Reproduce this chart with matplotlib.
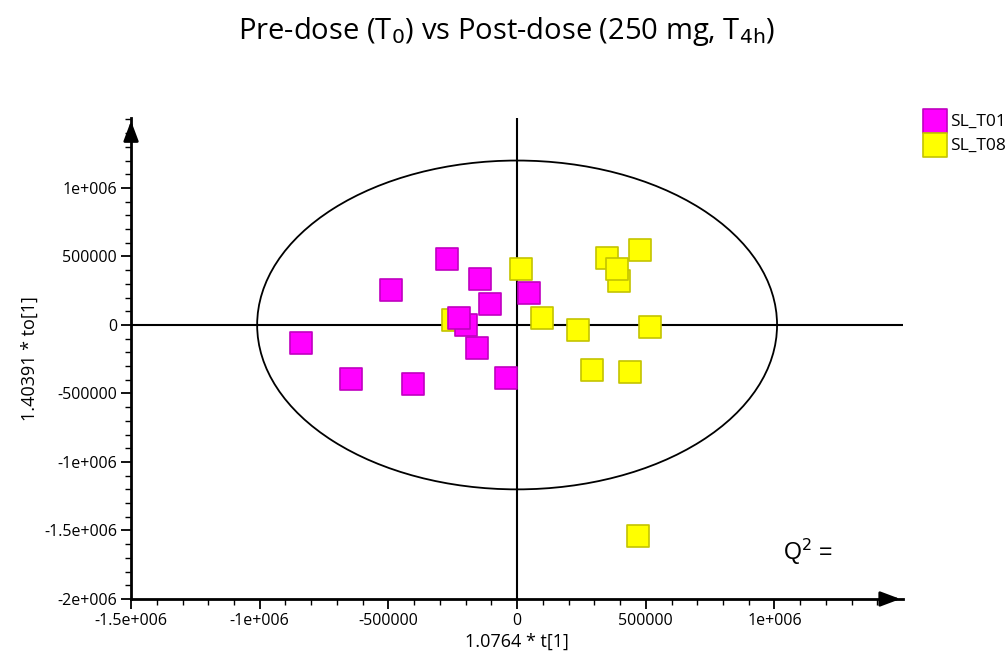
import numpy as np
import matplotlib
matplotlib.use("Agg")
import matplotlib.pyplot as plt
from matplotlib.ticker import MultipleLocator, FixedLocator, FixedFormatter
from matplotlib.patches import Ellipse

# scores
t01_x = [-840000, -646000, -405000, -490000, -272000, -144000, -105000, 47000, -198000, -226000, -157000, -44000]
t01_y = [-131000, -394000, -430000, 255000, 481000, 335000, 155000, 233000, -2000, 53000, -168000, -384000]
t08_x = [-249000, 16000, 96000, 236000, 517000, 349000, 476000, 397000, 390000, 291000, 437000, 470000]
t08_y = [34000, 410000, 53000, -39000, -15000, 490000, 547000, 321000, 410000, -330000, -340000, -1543000]

xticks = [-1500000, -1000000, -500000, 0, 500000, 1000000]
xlabels = ["-1.5e+006", "-1e+006", "-500000", "0", "500000", "1e+006"]
yticks = [-2000000, -1500000, -1000000, -500000, 0, 500000, 1000000]
ylabels = ["-2e+006", "-1.5e+006", "-1e+006", "-500000", "0", "500000", "1e+006"]

ell_a = 1010000
ell_b = 1200000

plt.rcParams['font.family'] = ['Open Sans', 'DejaVu Sans']

fig = plt.figure(figsize=(10.08, 6.57), dpi=100)
ax = fig.add_axes([0.130, 0.0883, 0.766, 0.732])
ax.set_xlim(-1500000, 1500000)
ax.set_ylim(-2000000, 1510000)

ax.axhline(0, color="black", lw=1.5, zorder=1)
ax.axvline(0, color="black", lw=1.5, zorder=1)
ax.add_patch(Ellipse((0, 0), 2 * ell_a, 2 * ell_b, fill=False, ec="black", lw=1.3, zorder=1))

ax.scatter(t08_x, t08_y, marker="s", s=270, c="#ffff00", edgecolors="#c4c400", linewidths=1.2, zorder=2)
ax.scatter(t01_x, t01_y, marker="s", s=270, c="#ff00ff", edgecolors="#c000c0", linewidths=1.2, zorder=3)

for s in ["top", "right"]:
    ax.spines[s].set_visible(False)
ax.spines["left"].set_linewidth(2)
ax.spines["bottom"].set_linewidth(2)

# arrow heads at the ends of the axes
ax.annotate("", xy=(1.0, 0), xytext=(0.97, 0), xycoords="axes fraction",
            arrowprops=dict(arrowstyle="-|>,head_length=1.2,head_width=0.45", color="black", lw=2), annotation_clip=False)
ax.annotate("", xy=(0, 1.0), xytext=(0, 0.97), xycoords="axes fraction",
            arrowprops=dict(arrowstyle="-|>,head_length=1.2,head_width=0.45", color="black", lw=2), annotation_clip=False)

ax.xaxis.set_major_locator(FixedLocator(xticks))
ax.xaxis.set_major_formatter(FixedFormatter(xlabels))
ax.yaxis.set_major_locator(FixedLocator(yticks))
ax.yaxis.set_major_formatter(FixedFormatter(ylabels))
ax.xaxis.set_minor_locator(FixedLocator(np.arange(-1500000, 1450000, 100000)))
ax.yaxis.set_minor_locator(MultipleLocator(100000))
ax.tick_params(which="major", length=7, width=1.3, labelsize=11.5, pad=3)
ax.tick_params(which="minor", length=4, width=1.0)

ax.set_xlabel("1.0764 * t[1]", fontsize=13, labelpad=3)
ax.set_ylabel("1.40391 * to[1]", fontsize=13, labelpad=4)

fig.text(0.503, 1 - 32 / 657, r"Pre-dose (T$_\mathrm{0}$) vs Post-dose (250 mg, T$_\mathrm{4h}$)",
         ha="center", va="center", fontsize=21)

ax.text(0.876, 0.098, "Q$^2$ =", transform=ax.transAxes, fontsize=16.5,
        family=["Liberation Sans", "DejaVu Sans"], ha="center", va="center")

h1 = ax.scatter([], [], marker="s", s=280, c="#ff00ff", edgecolors="#c000c0", linewidths=1.2)
h2 = ax.scatter([], [], marker="s", s=280, c="#ffff00", edgecolors="#c4c400", linewidths=1.2)
fig.legend([h1, h2], ["SL_T01", "SL_T08"], loc="upper left", bbox_to_anchor=(0.909, 0.838),
           frameon=False, fontsize=12.5, handletextpad=0.25, labelspacing=0.45, borderaxespad=0, handlelength=1.3)

fig.savefig("out.png", dpi=100)
